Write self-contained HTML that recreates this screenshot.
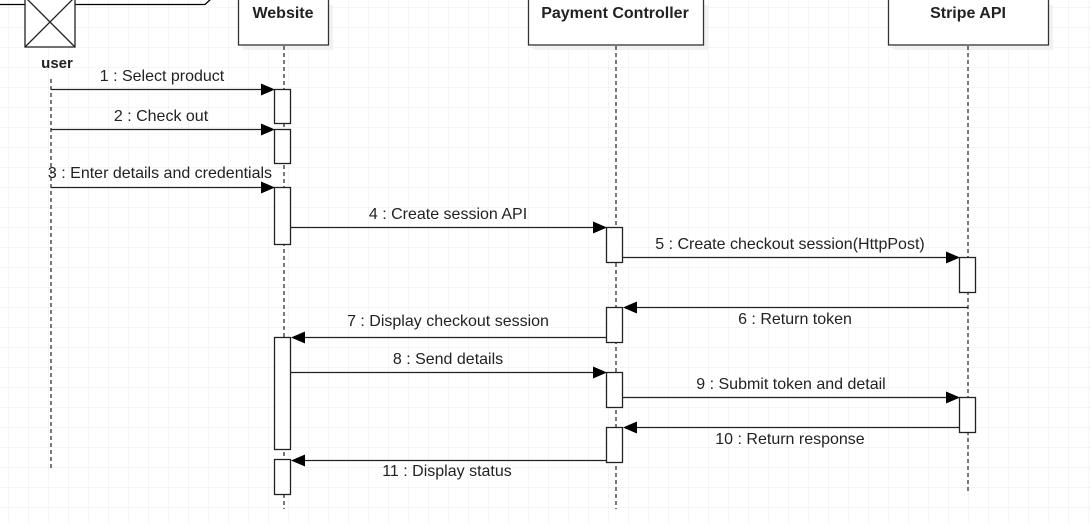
<!DOCTYPE html>
<html><head><meta charset="utf-8"><style>
html,body{margin:0;padding:0;background:#fff;}
svg{display:block;}
text{font-family:"Liberation Sans",sans-serif;fill:#222;}
</style></head><body>
<svg width="1091" height="523" viewBox="0 0 1091 523" xmlns="http://www.w3.org/2000/svg">
<defs>
<pattern id="g" width="20" height="20" patternUnits="userSpaceOnUse" x="8" y="7">
<path d="M0 0H20M0 0V20" stroke="#ebebeb" stroke-width="1" fill="none"/>
</pattern>
</defs>
<rect width="1091" height="523" fill="url(#g)"/>
<path d="M0 4.5H205L212 -2" stroke="#000" fill="none" stroke-width="1.3"/>
<rect x="25" y="-3" width="50" height="50" fill="#fff" stroke="#222" stroke-width="1.3"/>
<path d="M25 -3L75 47M75 -3L25 47" stroke="#222" stroke-width="1.3"/>
<text x="57" y="68" font-size="15" font-weight="bold" text-anchor="middle" fill="#000">user</text>
<rect x="243" y="5" width="90" height="45" fill="#ececec" opacity="0.7"/>
<rect x="238.5" y="-2" width="90" height="47" fill="#fff" stroke="#333" stroke-width="1.3"/>
<text x="283" y="18" font-size="16" font-weight="bold" text-anchor="middle" fill="#000">Website</text>
<rect x="533" y="5" width="175" height="45" fill="#ececec" opacity="0.7"/>
<rect x="528.5" y="-2" width="175" height="47" fill="#fff" stroke="#333" stroke-width="1.3"/>
<text x="615" y="18" font-size="16" font-weight="bold" text-anchor="middle" fill="#000">Payment Controller</text>
<rect x="893" y="5" width="160" height="45" fill="#ececec" opacity="0.7"/>
<rect x="888.5" y="-2" width="160" height="47" fill="#fff" stroke="#333" stroke-width="1.3"/>
<text x="968" y="18" font-size="16" font-weight="bold" text-anchor="middle" fill="#000">Stripe API</text>
<g stroke="#222" stroke-width="1.2" stroke-dasharray="4 3">
<path d="M51 79V470"/>
<path d="M284 46V509"/>
<path d="M616 46V509"/>
<path d="M968 46V494"/>
</g>
<g stroke="#222" stroke-width="1.3" fill="none">
<path d="M51 89.5H262"/>
<path d="M51 129.5H262"/>
<path d="M51 187.5H262"/>
<path d="M291 227.5H594"/>
<path d="M623 257.5H947"/>
<path d="M968 307.5H636"/>
<path d="M607 337.5H304"/>
<path d="M291 372.5H594"/>
<path d="M623 397.5H947"/>
<path d="M968 427.5H636"/>
<path d="M607 460.5H304"/>
</g>
<g fill="#000">
<path d="M275 89.5l-14 -6v12z"/>
<path d="M275 129.5l-14 -6v12z"/>
<path d="M275 187.5l-14 -6v12z"/>
<path d="M607 227.5l-14 -6v12z"/>
<path d="M960 257.5l-14 -6v12z"/>
<path d="M623 307.5l14 -6v12z"/>
<path d="M291 337.5l14 -6v12z"/>
<path d="M607 372.5l-14 -6v12z"/>
<path d="M960 397.5l-14 -6v12z"/>
<path d="M623 427.5l14 -6v12z"/>
<path d="M291 460.5l14 -6v12z"/>
</g>
<g fill="#fff" stroke="#222" stroke-width="1.3">
<rect x="274.5" y="89.5" width="16" height="34"/>
<rect x="274.5" y="129.5" width="16" height="34"/>
<rect x="274.5" y="187.5" width="16" height="57"/>
<rect x="274.5" y="337.5" width="16" height="112"/>
<rect x="274.5" y="459.5" width="16" height="35"/>
<rect x="606.5" y="227.5" width="16" height="35"/>
<rect x="606.5" y="307.5" width="16" height="35"/>
<rect x="606.5" y="372.5" width="16" height="35"/>
<rect x="606.5" y="427.5" width="16" height="35"/>
<rect x="959.5" y="257.5" width="16" height="35"/>
<rect x="959.5" y="397.5" width="16" height="35"/>
</g>
<g font-size="16" text-anchor="middle">
<text x="162" y="81">1 : Select product</text>
<text x="161" y="121">2 : Check out</text>
<text x="160" y="178">3 : Enter details and credentials</text>
<text x="448" y="219">4 : Create session API</text>
<text x="790" y="249">5 : Create checkout session(HttpPost)</text>
<text x="795" y="324">6 : Return token</text>
<text x="448" y="326">7 : Display checkout session</text>
<text x="448" y="364">8 : Send details</text>
<text x="791" y="389">9 : Submit token and detail</text>
<text x="790" y="444">10 : Return response</text>
<text x="447" y="476">11 : Display status</text>
</g>
</svg>
</body></html>
